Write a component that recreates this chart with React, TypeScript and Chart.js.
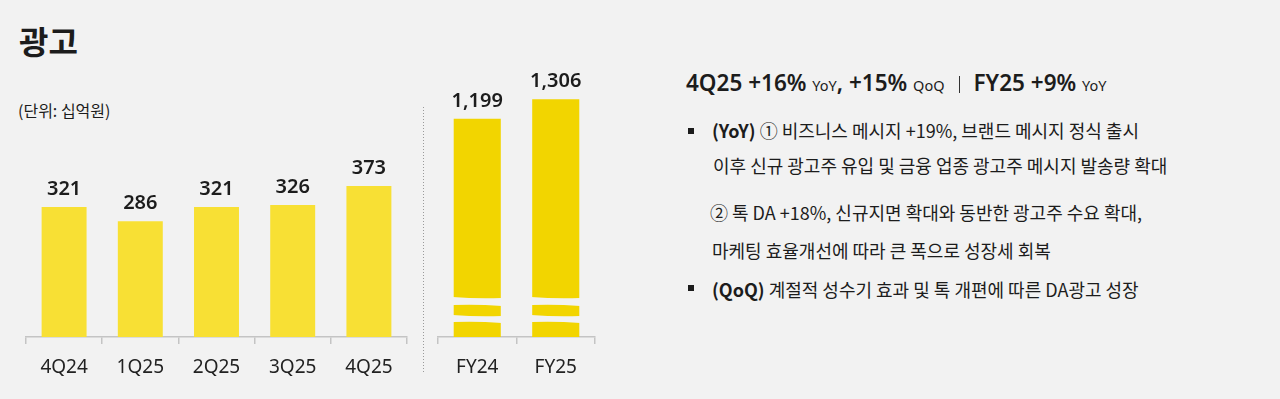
import React, { useEffect, useRef } from 'react';
import { Chart, registerables } from 'chart.js';

Chart.register(...registerables);

const quarterLabels = ['4Q24', '1Q25', '2Q25', '3Q25', '4Q25'];
const quarterValues = [321, 286, 321, 326, 373];
const yearLabels = ['FY24', 'FY25'];
const yearValues = [1199, 1306];

const QUARTER_COLOR = '#F8E034';
const YEAR_COLOR = '#F2D500';
const BG = '#F2F2F2';
const TEXT = '#1c1c1c';
const FONT_LATIN = "'Noto Sans', 'Noto Sans CJK KR', sans-serif";
const FONT_KR = "'Noto Sans CJK KR', 'Noto Sans', sans-serif";

const valueLabelPlugin = {
  id: 'valueLabels',
  afterDatasetsDraw(chart: any) {
    const ctx = chart.ctx;
    const meta = chart.getDatasetMeta(0);
    const data = chart.data.datasets[0].data as number[];
    ctx.save();
    ctx.fillStyle = TEXT;
    ctx.font = `600 20px ${FONT_LATIN}`;
    ctx.textAlign = 'center';
    ctx.textBaseline = 'alphabetic';
    meta.data.forEach((bar: any, i: number) => {
      ctx.fillText(data[i].toLocaleString('en-US'), bar.x, bar.y - 12);
    });
    ctx.restore();
  },
};

const breakPlugin = {
  id: 'breakMarks',
  afterDatasetsDraw(chart: any, _args: any, opts: any) {
    if (!opts || !opts.enabled) return;
    const ctx = chart.ctx;
    const meta = chart.getDatasetMeta(0);
    ctx.save();
    ctx.fillStyle = BG;
    meta.data.forEach((bar: any) => {
      const l = bar.x - bar.width / 2 - 1;
      const r = bar.x + bar.width / 2 + 1;
      const m = bar.x;
      const bands = [
        [bar.base - 40, bar.base - 32],
        [bar.base - 22, bar.base - 15],
      ];
      bands.forEach(([y0, y1]) => {
        ctx.beginPath();
        ctx.moveTo(l, y0);
        ctx.quadraticCurveTo(m, y0 + 2, r, y0 + 1);
        ctx.lineTo(r, y1 + 1);
        ctx.quadraticCurveTo(m, y1 - 1, l, y1);
        ctx.closePath();
        ctx.fill();
      });
    });
    ctx.restore();
  },
};

function makeChart(
  canvas: HTMLCanvasElement,
  labels: string[],
  values: number[],
  color: string,
  yMax: number,
  padL: number,
  padR: number,
  barPct: number,
  withBreaks: boolean
) {
  return new Chart(canvas, {
    type: 'bar',
    data: {
      labels,
      datasets: [
        {
          data: values,
          backgroundColor: color,
          borderWidth: 0,
          barPercentage: barPct,
          categoryPercentage: 1,
        },
      ],
    },
    options: {
      responsive: false,
      animation: false,
      layout: { padding: { left: padL, right: padR, top: 0, bottom: 0 } },
      plugins: {
        legend: { display: false },
        tooltip: { enabled: false },
        breakMarks: { enabled: withBreaks },
      } as any,
      scales: {
        x: {
          afterFit: (s: any) => {
            s.height = 62;
          },
          grid: {
            display: true,
            drawOnChartArea: false,
            drawTicks: true,
            tickLength: 7,
            color: '#c4c4c4',
            lineWidth: 1.5,
            offset: true,
          },
          border: { display: true, color: '#c4c4c4', width: 1.5 },
          ticks: {
            color: '#222',
            font: { family: FONT_LATIN, size: 19 },
            padding: 12,
          },
        },
        y: {
          display: false,
          min: 0,
          max: yMax,
        },
      },
    },
    plugins: [valueLabelPlugin, breakPlugin],
  });
}

export default function App() {
  const qRef = useRef<HTMLCanvasElement>(null);
  const yRef = useRef<HTMLCanvasElement>(null);

  useEffect(() => {
    document.body.style.margin = '0';
    document.body.style.background = BG;
    const c1 = makeChart(qRef.current!, quarterLabels, quarterValues, QUARTER_COLOR, 832, 26, 23, 0.59, false);
    const c2 = makeChart(yRef.current!, yearLabels, yearValues, YEAR_COLOR, 1852, 8, 25, 0.6, true);
    return () => {
      c1.destroy();
      c2.destroy();
    };
  }, []);

  const small: React.CSSProperties = { fontSize: 14.5, fontWeight: 400 };
  const lineStyle = (top: number, left: number): React.CSSProperties => ({
    position: 'absolute',
    top,
    left,
    fontFamily: FONT_KR,
    fontSize: 18,
    lineHeight: '24px',
    color: TEXT,
    whiteSpace: 'nowrap',
  });
  const bullet = (top: number): React.CSSProperties => ({
    position: 'absolute',
    left: 688,
    top,
    width: 6,
    height: 6,
    background: TEXT,
  });

  return (
    <div
      style={{
        position: 'fixed',
        left: 0,
        top: 0,
        width: 1280,
        height: 399,
        background: BG,
        overflow: 'hidden',
        fontFamily: FONT_KR,
        color: TEXT,
      }}
    >
      <div
        style={{
          position: 'absolute',
          left: 19,
          top: 20,
          fontSize: 32,
          fontWeight: 700,
          lineHeight: '40px',
          fontFamily: FONT_KR,
        }}
      >
        광고
      </div>
      <div
        style={{
          position: 'absolute',
          left: 18,
          top: 100,
          fontSize: 16,
          lineHeight: '20px',
          fontFamily: FONT_KR,
        }}
      >
        (단위: 십억원)
      </div>

      <canvas ref={qRef} width={430} height={399} style={{ position: 'absolute', left: 0, top: 0 }} />
      <canvas ref={yRef} width={190} height={399} style={{ position: 'absolute', left: 430, top: 0 }} />

      <div
        style={{
          position: 'absolute',
          left: 423,
          top: 107,
          width: 1,
          height: 266,
          background: 'repeating-linear-gradient(to bottom, #9a9a9a 0px, #9a9a9a 1px, transparent 1px, transparent 3px)',
        }}
      />

      <div
        style={{
          position: 'absolute',
          left: 686,
          top: 68,
          fontFamily: FONT_LATIN,
          fontSize: 22.5,
          fontWeight: 600,
          lineHeight: '30px',
          whiteSpace: 'nowrap',
          color: TEXT,
        }}
      >
        4Q25 +16% <span style={small}>YoY</span>, +15% <span style={small}>QoQ</span>
        <span
          style={{
            display: 'inline-block',
            width: 0,
            height: 17,
            borderLeft: '1.5px solid #333',
            margin: '0 14px 0 14px',
            verticalAlign: '-2px',
          }}
        />
        FY25 +9% <span style={small}>YoY</span>
      </div>

      <div style={bullet(128)} />
      <div style={lineStyle(118, 712)}>
        <b>(YoY)</b> ① 비즈니스 메시지 +19%, 브랜드 메시지 정식 출시
      </div>
      <div style={lineStyle(153, 713)}>이후 신규 광고주 유입 및 금융 업종 광고주 메시지 발송량 확대</div>
      <div style={lineStyle(200, 710)}>② 톡 DA +18%, 신규지면 확대와 동반한 광고주 수요 확대,</div>
      <div style={lineStyle(238, 712)}>마케팅 효율개선에 따라 큰 폭으로 성장세 회복</div>
      <div style={bullet(285)} />
      <div style={lineStyle(277, 712)}>
        <b>(QoQ)</b> 계절적 성수기 효과 및 톡 개편에 따른 DA광고 성장
      </div>
    </div>
  );
}
